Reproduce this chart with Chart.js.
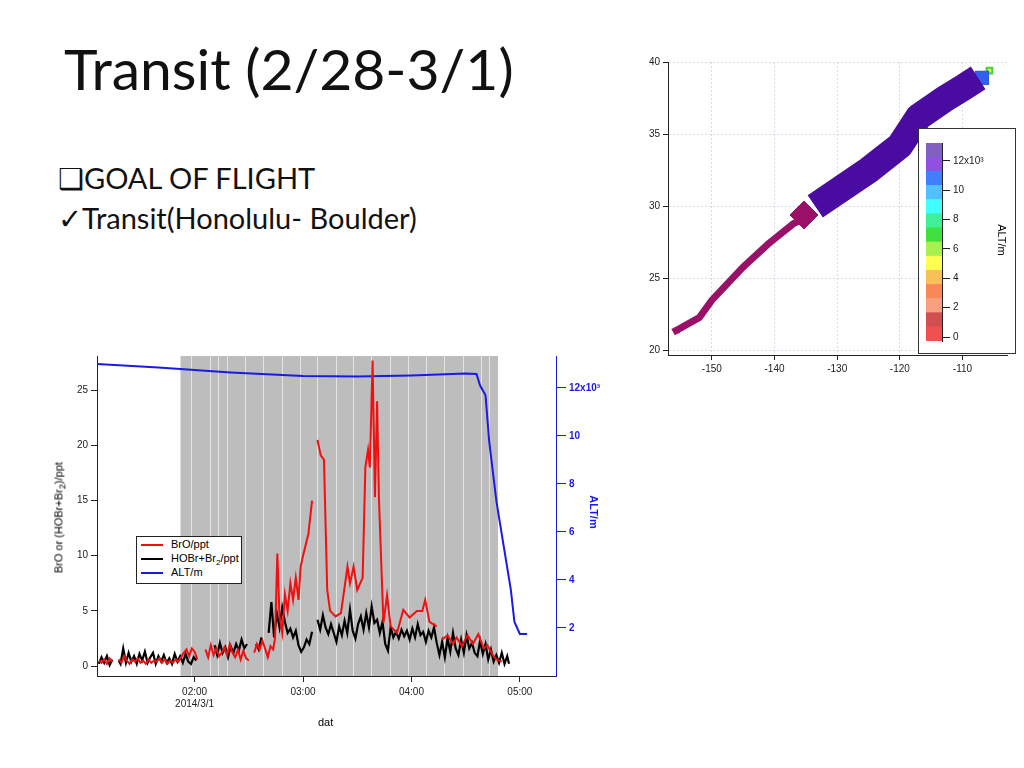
<!DOCTYPE html>
<html>
<head>
<meta charset="utf-8">
<script src="https://cdn.jsdelivr.net/npm/chart.js@4"></script>
<style>
  body { margin: 0; width: 1024px; height: 768px; background: #fff; position: relative; overflow: hidden; font-family: "Liberation Sans", Arial, sans-serif; }
  .abs { position: absolute; }
  #title { left: 64px; top: 34px; font: 57px Lato, "Open Sans", sans-serif; color: #111; }
  .bullet { left: 58px; font: 29px Lato, "Open Sans", sans-serif; color: #111; }
  #legend { left: 136px; top: 536px; width: 104px; height: 46px; border: 1px solid #222; background: #fff; font-size: 11px; }
  #legend div { height: 14px; line-height: 14px; padding-left: 34px; position: relative; }
  #legend span.sw { position: absolute; left: 4px; top: 7px; width: 22px; height: 2px; }
  #cbox { left: 918px; top: 128px; width: 96px; height: 224px; border: 1px solid #333; background: #fff; }
</style>
</head>
<body>
<div id="title" class="abs">Transit (2/28-3/1)</div>
<div class="abs bullet" style="top:160px">&#10065;GOAL OF FLIGHT</div>
<div class="abs bullet" style="top:200px">&#10003;Transit(Honolulu- Boulder)</div>

<canvas id="mapChart" class="abs" style="left:620px;top:40px" width="404" height="360"></canvas>
<div id="cbox" class="abs"></div>
<canvas id="cbar" class="abs" style="left:920px;top:130px" width="80" height="220"></canvas>
<div class="abs" style="left:982px;top:234px;font-size:11px;transform:rotate(90deg);transform-origin:center;width:40px;text-align:center">ALT/m</div>

<canvas id="timeChart" class="abs" style="left:0px;top:340px" width="620" height="400"></canvas>
<div class="abs" style="left:-20px;top:510px;width:160px;text-align:center;font-size:11px;transform:rotate(-90deg)">BrO or (HOBr+Br<sub>2</sub>)/ppt</div>
<div class="abs" style="left:574px;top:506px;width:40px;text-align:center;font-size:11px;font-weight:bold;color:#1a1ae6;transform:rotate(90deg)">ALT/m</div>
<div class="abs" style="left:318px;top:716px;font-size:11px">dat</div>
<div id="legend" class="abs">
  <div><span class="sw" style="background:#f01010"></span>BrO/ppt</div>
  <div><span class="sw" style="background:#000"></span>HOBr+Br<sub style="font-size:8px">2</sub>/ppt</div>
  <div><span class="sw" style="background:#1a1ae6"></span>ALT/m</div>
</div>

<script>
// flight track (lon, lat)
const lowTrackLon = [-155.7, -152, -150, -145, -141, -137, -134];
const lowTrackLat = [21.4, 22.3, 23.5, 25.8, 27.4, 28.8, 29.4];
const highTrackLon = [-133.5, -125, -120, -117, -113, -110, -107.5];
const highTrackLat = [30.0, 32.5, 34.2, 36.2, 37.4, 38.2, 38.9];

// colour scale bands (m)
const bandColors = ['#f05050', '#d05050', '#f8a080', '#f88858', '#f8c058', '#ffff50', '#a8f050',
  '#40e040', '#40f098', '#40ffff', '#50c0ff', '#4080ff', '#9050e0', '#8060c0'];
const bandStep = 963;
const bandStart = -270;

// time series, minutes since 00:00 on 2014/3/1
const altTime = [66, 100, 140, 180, 210, 240, 270, 276, 278, 281, 283, 287, 290, 295, 297, 300, 304];
const altValue = [13000, 12850, 12650, 12500, 12480, 12520, 12600, 12580, 12100, 11700, 9800, 7300, 5900, 3600, 2250, 1750, 1750];

const broTime = [67, 68.5, 70, 71.5, 73, 74.5, 76, 78, 79.5, 81, 82.5, 84, 85.5, 87, 88.5, 90, 91.5, 93, 94.5, 96, 97.5, 99, 100.5, 102, 103.5, 105, 106.5, 108, 109.5, 111,
  112.5, 114, 115.5, 117, 118.5, 120, 121.5, 123, 126, 127.5, 129, 130.5, 132, 133.5, 135, 136.5, 138, 139.5, 141, 142.5, 144, 145.5, 147, 148.5, 150, 151,
  153, 154.5, 156, 157.5, 159, 160.5, 162, 163.5, 164.5, 165.8, 167, 168.5, 170, 171.5, 173, 174.5, 176, 177.5, 178.7, 180, 181.5, 183, 185, 186,
  188, 189.8, 191.6, 193.4, 195, 198, 201, 204.6, 206, 208, 210, 213, 214.5, 216, 217, 218.5, 219.8, 221, 222, 224.5, 226.5, 228.5, 232, 235.5, 239, 243, 246, 247.6, 250, 254, 255,
  257, 260, 263, 265, 268, 271, 274, 277, 280, 282, 285, 287, 290];
const broValue = [0.5, 0.3, 0.6, 0.2, 0.7, 0.4, null, 0.6, 0.3, 0.9, 0.5, 0.2, 0.6, 0.4, 0.7, 0.3, 0.5, 0.2, 0.6, 0.3, 0.5, 0.4, 0.7, 0.3, 0.6, 0.2, 0.5, 0.3, 0.6, 0.4,
  0.8, 1.2, 1.5, 0.9, 1.6, 1.3, 0.6, null, 1.5, 0.8, 1.9, 1.0, 1.6, 0.9, 1.2, 1.7, 1.0, 2.0, 1.2, 0.8, 1.5, 0.6, 1.4, 0.7, 0.5, null,
  1.2, 2.0, 1.5, 2.3, 1.6, 0.8, 1.8, 1.5, 2.5, 10.2, 4.5, 3.0, 6.5, 5.0, 7.5, 6.0, 8.0, 6.0, 9.0, 10.0, 11.0, 12.0, 15.0, null,
  20.5, 19.1, 18.7, 6.9, 5.0, 4.5, 4.8, 9.0, 7.5, 9.0, 6.9, 8.0, 18.0, 19.6, 18.0, 27.7, 15.3, 24.0, 15.3, 3.9, 6.4, 3.6, 3.0, 5.1, 4.4, 5.0, 5.0, 6.0, 4.0, 3.6, null,
  2.4, 2.8, 2.0, 2.6, 1.8, 2.8, 2.0, 2.9, 1.6, 1.9, 1.0, 0.6, 0.4];

const hobrTime = [67, 68.5, 70, 71.5, 73, 74.5, 76, 78, 79, 80.5, 82, 83.5, 85, 86.5, 88, 89.5, 91, 92.5, 94, 95.5, 97, 98.5, 100, 101.5, 103, 104.5, 106, 107.5, 109, 110.5,
  112, 113.5, 115, 116.5, 118, 119.5, 121, 122.5, 127, 128.5, 131, 132.5, 134, 135.5, 137, 138.5, 140, 141.5, 143, 144.5, 146, 147.5, 149, 150.5, 154, 155.5, 157, 158.5,
  161, 162.5, 164, 165.5, 167, 168.5, 170, 171.5, 173, 174.5, 176, 177.5, 179, 180.5, 182, 183.5, 185, 186.5, 188, 189.5, 191, 192.5, 194, 195.5, 197, 198.5, 200,
  201.5, 203, 204.5, 206, 207.5, 209, 210.5, 212, 213.5, 215, 216.5, 218, 219.5, 221, 222.5, 224, 225.5, 227, 228.5, 230, 231.5, 233, 234.5, 236, 237.5, 239, 240.5,
  242, 243.5, 245, 246.5, 248, 249.5, 251, 252.5, 254, 255.5, 257, 258.5, 260, 261.5, 263, 264.5, 266, 267.5, 269, 270.5, 272, 273.5, 275, 276.5, 278, 279.5,
  281, 282.5, 284, 285.5, 287, 288.5, 290, 291.5, 293, 294];
const hobrValue = [0.2, 0.8, 0.3, 0.9, 0.1, 0.6, null, 0.5, 0.2, 1.6, 0.3, 1.2, 0.4, 0.9, 0.2, 1.1, 0.5, 1.3, 0.3, 0.8, 1.2, 0.2, 0.9, 0.4, 1.0, 0.3, 0.7, 0.2, 1.1, 0.4,
  0.9, 0.3, 1.1, 0.4, 0.2, 0.8, 0.5, null, 1.5, null, 1.9, 1.0, 2.1, 1.2, 1.7, 0.8, 1.8, 1.2, 2.0, 1.4, 2.4, 1.6, 2.0, null, 2.0, 1.5, 2.6, null,
  3.0, 5.8, 2.6, 4.8, 3.5, 5.3, 4.0, 3.0, 3.4, 2.6, 3.2, 1.9, 1.3, 1.7, 2.4, 2.0, 3.1, null, 4.2, 3.3, 4.6, 3.5, 2.9, 3.8, 3.0, 2.2, 3.6,
  2.8, 4.1, 3.0, 5.1, 3.2, 2.5, 3.8, 4.5, 3.3, 4.8, 3.5, 5.4, 3.9, 4.2, 3.0, 4.0, 2.0, 1.4, 3.5, 2.6, 3.1, 2.5, 3.3, 2.7, 3.2, 2.4, 3.4,
  2.6, 3.8, 2.8, 3.1, 2.2, 3.2, 2.6, 3.5, 2.1, 1.0, 2.2, 0.8, 2.5, 1.3, 3.0, 1.6, 1.0, 2.4, 1.2, 2.8, 1.6, 2.1, 1.2, 0.9, 2.3, 1.1,
  2.0, 0.6, 1.5, 0.4, 1.0, 0.3, 1.2, 0.2, 0.9, 0.2];

// grey background span and white divider lines
const shadeStart = 112.2;
const shadeEnd = 287.9;
const shadeLines = [117.8, 128.3, 133.1, 137.7, 147.7, 157.7, 168.1, 178.2, 188, 198.1, 207.7, 217.9, 228, 238.1, 248, 258.1, 268.3, 278.4, 283];

const timeTicks = [120, 180, 240, 300];
const timeLabels = [['02:00', '2014/3/1'], '03:00', '04:00', '05:00'];

const pts = (xs, ys) => xs.map((x, i) => ({ x: x, y: ys[i] }));
Chart.defaults.font.family = '"Liberation Sans", Arial, sans-serif';
Chart.defaults.font.size = 10;
Chart.defaults.color = '#222';
Chart.defaults.animation = false;

// ---- map
new Chart(document.getElementById('mapChart'), {
  type: 'line',
  data: {
    datasets: [
      { data: pts(lowTrackLon, lowTrackLat), borderColor: '#9a1068', borderWidth: 7, pointRadius: 0, borderCapStyle: 'square' },
      { data: [{ x: -135.3, y: 29.4 }], borderColor: '#9a1068', backgroundColor: '#9a1068', pointStyle: 'rectRot', pointRadius: 14, showLine: false },
      { data: pts(highTrackLon, highTrackLat), borderColor: '#4a0ca0', borderWidth: 27, pointRadius: 0, borderJoinStyle: 'round' },
      { data: [{ x: -155.6, y: 21.4 }], backgroundColor: '#6020c0', pointStyle: 'rect', pointRadius: 4, showLine: false },
      { data: [{ x: -106.9, y: 38.9 }], backgroundColor: '#3060f0', pointStyle: 'rect', pointRadius: 10, showLine: false },
      { data: [{ x: -105.7, y: 39.4 }], backgroundColor: '#e8f030', borderColor: '#40d040', borderWidth: 2, pointStyle: 'rect', pointRadius: 4, showLine: false }
    ]
  },
  options: {
    responsive: false,
    layout: { padding: { top: 22, right: 17 } },
    plugins: { legend: { display: false }, tooltip: { enabled: false } },
    scales: {
      x: {
        type: 'linear', min: -157, max: -102.9,
        afterBuildTicks: s => { s.ticks = [-150, -140, -130, -120, -110].map(v => ({ value: v })); },
        grid: { color: '#d6dbe8', tickColor: '#222', tickLength: 5 },
        border: { color: '#222', dash: [2, 2] },
        afterFit: s => { s.height = 45; }
      },
      y: {
        type: 'linear', min: 19.7, max: 40,
        afterBuildTicks: s => { s.ticks = [20, 25, 30, 35, 40].map(v => ({ value: v })); },
        grid: { color: '#d6dbe8', tickColor: '#222', tickLength: 5 },
        border: { color: '#222', dash: [2, 2] },
        afterFit: s => { s.width = 48; }
      }
    }
  }
});

// ---- colour bar
new Chart(document.getElementById('cbar'), {
  type: 'bar',
  data: {
    labels: [''],
    datasets: bandColors.map((c, i) => ({
      data: [[bandStart + i * bandStep, bandStart + (i + 1) * bandStep]],
      backgroundColor: c, grouped: false, barPercentage: 1, categoryPercentage: 1
    }))
  },
  options: {
    responsive: false,
    layout: { padding: { left: 6, top: 13, bottom: 8 } },
    plugins: { legend: { display: false }, tooltip: { enabled: false } },
    scales: {
      x: { display: false },
      y: {
        position: 'right', min: bandStart, max: bandStart + bandColors.length * bandStep,
        afterBuildTicks: s => { s.ticks = [0, 2000, 4000, 6000, 8000, 10000, 12000].map(v => ({ value: v })); },
        grid: { drawOnChartArea: false, tickLength: 8, color: '#222' },
        border: { color: '#222' },
        ticks: { font: { size: 10 }, callback: v => v === 12000 ? '12x10\u00B3' : v / 1000 },
        afterFit: s => { s.width = 58; }
      }
    }
  }
});

// ---- time series
const shade = {
  id: 'shade',
  beforeDatasetsDraw(chart) {
    const { ctx, chartArea: a, scales: { x } } = chart;
    ctx.save();
    ctx.fillStyle = '#bdbdbd';
    ctx.fillRect(x.getPixelForValue(shadeStart), a.top, x.getPixelForValue(shadeEnd) - x.getPixelForValue(shadeStart), a.bottom - a.top);
    ctx.strokeStyle = '#e4e4e4';
    ctx.lineWidth = 1;
    shadeLines.forEach(t => {
      const px = Math.round(x.getPixelForValue(t)) + 0.5;
      ctx.beginPath(); ctx.moveTo(px, a.top); ctx.lineTo(px, a.bottom); ctx.stroke();
    });
    ctx.restore();
  }
};

new Chart(document.getElementById('timeChart'), {
  type: 'line',
  data: {
    datasets: [
      { label: 'BrO/ppt', data: pts(broTime, broValue), borderColor: '#f01010', borderWidth: 2, pointRadius: 0, yAxisID: 'y', spanGaps: false },
      { label: 'HOBr+Br2/ppt', data: pts(hobrTime, hobrValue), borderColor: '#000', borderWidth: 2.2, pointRadius: 0, yAxisID: 'y', spanGaps: false },
      { label: 'ALT/m', data: pts(altTime, altValue), borderColor: '#1a1ae6', borderWidth: 2, pointRadius: 0, yAxisID: 'y2' }
    ]
  },
  plugins: [shade],
  options: {
    responsive: false,
    layout: { padding: { top: 16 } },
    plugins: { legend: { display: false }, tooltip: { enabled: false } },
    scales: {
      x: {
        type: 'linear', min: 66, max: 320,
        afterBuildTicks: s => { s.ticks = timeTicks.map(v => ({ value: v })); },
        grid: { drawOnChartArea: false, tickLength: 6, color: '#222' },
        border: { color: '#222' },
        ticks: { callback: (v) => timeLabels[timeTicks.indexOf(v)], padding: 4 },
        afterFit: s => { s.height = 64; }
      },
      y: {
        min: -0.9, max: 28.1,
        afterBuildTicks: s => { s.ticks = [0, 5, 10, 15, 20, 25].map(v => ({ value: v })); },
        grid: { drawOnChartArea: false, tickLength: 6, color: '#222' },
        border: { color: '#222' },
        afterFit: s => { s.width = 97; }
      },
      y2: {
        position: 'right', min: 0, max: 13333,
        afterBuildTicks: s => { s.ticks = [2000, 4000, 6000, 8000, 10000, 12000].map(v => ({ value: v })); },
        grid: { drawOnChartArea: false, tickLength: 10, color: '#1a1ae6' },
        border: { color: '#1a1ae6' },
        ticks: { color: '#1a1ae6', font: { weight: 'bold' }, callback: v => v === 12000 ? '12x10\u00B3' : v / 1000 },
        afterFit: s => { s.width = 64; }
      }
    }
  }
});
</script>
</body>
</html>
